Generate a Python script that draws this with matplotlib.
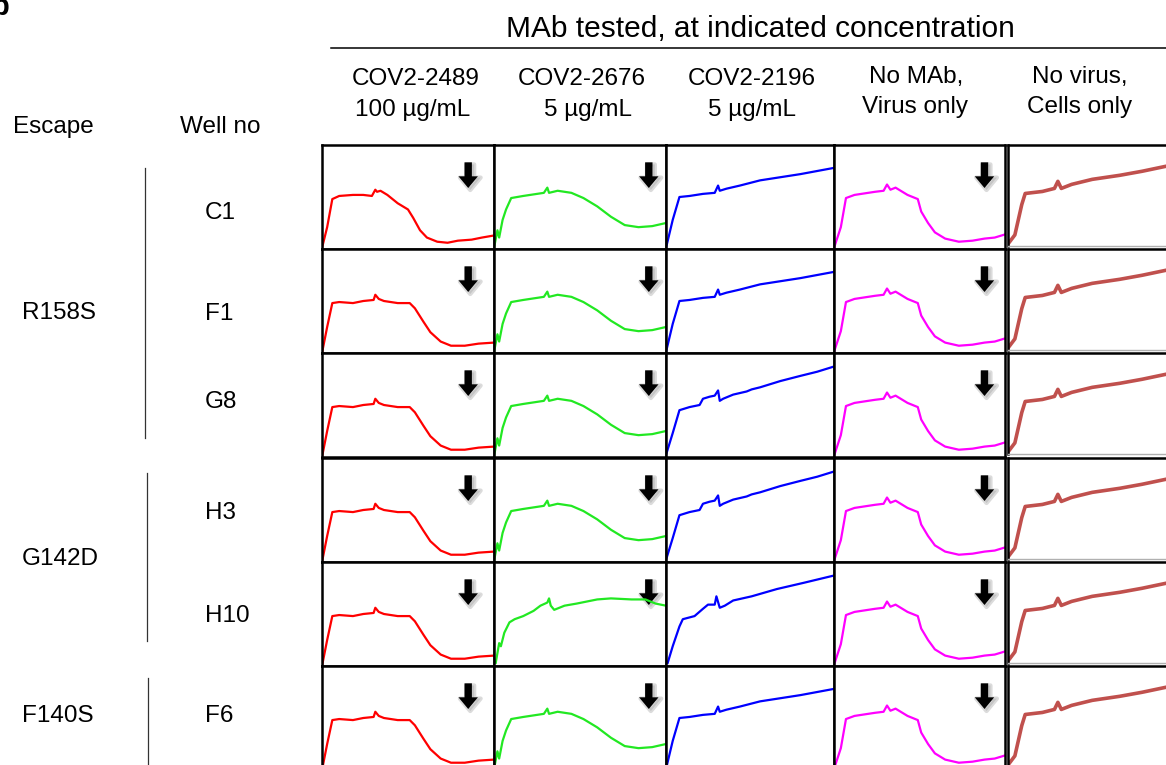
import matplotlib.pyplot as plt
from matplotlib.patches import FancyArrowPatch
from matplotlib.lines import Line2D

plt.rcParams['font.family'] = ['Liberation Sans', 'DejaVu Sans']

W, H = 1166, 765

# labels
escapes = ['R158S', 'G142D', 'F140S']
wells = ['C1', 'F1', 'G8', 'H3', 'H10', 'F6']
mab_names = ['COV2-2489', 'COV2-2676', 'COV2-2196', 'No MAb,', 'No virus,']
mab_conc = ['100 µg/mL', '5 µg/mL', '5 µg/mL', 'Virus only', 'Cells only']
line_colors = ['#ff0000', '#22e822', '#0000ff', '#ff00ff', '#c0504d']
has_arrow = [True, True, False, True, False]

# traces (normalised time, normalised cell index)
red_c1_t = [0, 0.03, 0.06, 0.10, 0.18, 0.24, 0.29, 0.31, 0.32, 0.34, 0.38, 0.44, 0.50, 0.53, 0.57, 0.61, 0.67, 0.73, 0.79, 0.87, 0.93, 1.0]
red_c1_y = [0.01, 0.21, 0.48, 0.51, 0.52, 0.52, 0.51, 0.57, 0.55, 0.56, 0.52, 0.44, 0.38, 0.30, 0.18, 0.11, 0.07, 0.06, 0.08, 0.09, 0.11, 0.13]

red_t = [0, 0.03, 0.06, 0.10, 0.18, 0.24, 0.30, 0.31, 0.33, 0.36, 0.44, 0.51, 0.54, 0.59, 0.63, 0.69, 0.75, 0.83, 0.91, 1.0]
red_y = [0.0, 0.25, 0.48, 0.49, 0.48, 0.50, 0.51, 0.56, 0.52, 0.50, 0.48, 0.48, 0.43, 0.30, 0.20, 0.11, 0.07, 0.07, 0.09, 0.10]

green_t = [0, 0.02, 0.03, 0.05, 0.07, 0.10, 0.17, 0.29, 0.31, 0.32, 0.37, 0.45, 0.52, 0.60, 0.68, 0.76, 0.84, 0.92, 1.0]
green_y = [0.01, 0.18, 0.11, 0.28, 0.38, 0.49, 0.51, 0.54, 0.59, 0.54, 0.56, 0.54, 0.49, 0.41, 0.31, 0.23, 0.21, 0.22, 0.25]

green_h10_t = [0.01, 0.03, 0.04, 0.06, 0.09, 0.12, 0.17, 0.23, 0.27, 0.31, 0.32, 0.33, 0.35, 0.41, 0.48, 0.60, 0.68, 0.80, 0.88, 0.94, 1.0]
green_h10_y = [0.03, 0.22, 0.19, 0.32, 0.42, 0.45, 0.48, 0.53, 0.58, 0.61, 0.65, 0.58, 0.54, 0.58, 0.60, 0.64, 0.65, 0.64, 0.64, 0.60, 0.58]

blue_t = [0, 0.04, 0.08, 0.14, 0.22, 0.29, 0.31, 0.32, 0.36, 0.44, 0.56, 0.68, 0.80, 0.90, 1.0]
blue_y = [0.01, 0.28, 0.50, 0.51, 0.53, 0.54, 0.61, 0.56, 0.58, 0.61, 0.66, 0.69, 0.72, 0.75, 0.78]

blue_g8_t = [0, 0.04, 0.08, 0.14, 0.20, 0.22, 0.26, 0.29, 0.31, 0.32, 0.34, 0.40, 0.48, 0.51, 0.56, 0.68, 0.80, 0.90, 1.0]
blue_g8_y = [0.02, 0.23, 0.45, 0.48, 0.50, 0.56, 0.58, 0.59, 0.64, 0.54, 0.56, 0.60, 0.63, 0.65, 0.67, 0.73, 0.78, 0.82, 0.87]

blue_h10_t = [0.01, 0.04, 0.08, 0.10, 0.17, 0.22, 0.25, 0.29, 0.30, 0.32, 0.35, 0.40, 0.51, 0.66, 0.82, 1.0]
blue_h10_y = [0.03, 0.19, 0.38, 0.45, 0.48, 0.55, 0.59, 0.59, 0.67, 0.56, 0.58, 0.63, 0.67, 0.74, 0.80, 0.87]

magenta_t = [0, 0.04, 0.07, 0.12, 0.24, 0.29, 0.31, 0.33, 0.36, 0.43, 0.49, 0.51, 0.55, 0.59, 0.65, 0.73, 0.81, 0.88, 0.94, 1.0]
magenta_y = [0.01, 0.21, 0.49, 0.52, 0.55, 0.56, 0.62, 0.57, 0.59, 0.52, 0.48, 0.36, 0.25, 0.16, 0.10, 0.07, 0.08, 0.10, 0.11, 0.14]

brown_t = [0, 0.04, 0.08, 0.10, 0.20, 0.27, 0.29, 0.31, 0.37, 0.49, 0.65, 0.78, 0.92, 1.0]
brown_y = [0.02, 0.11, 0.41, 0.52, 0.54, 0.57, 0.64, 0.57, 0.61, 0.66, 0.70, 0.74, 0.79, 0.81]

curves = {
    'red_c1': (red_c1_t, red_c1_y), 'red': (red_t, red_y),
    'green': (green_t, green_y), 'green_h10': (green_h10_t, green_h10_y),
    'blue': (blue_t, blue_y), 'blue_g8': (blue_g8_t, blue_g8_y), 'blue_h10': (blue_h10_t, blue_h10_y),
    'magenta': (magenta_t, magenta_y), 'brown': (brown_t, brown_y),
}
cell_curve = [
    ['red_c1', 'green', 'blue', 'magenta', 'brown'],
    ['red', 'green', 'blue', 'magenta', 'brown'],
    ['red', 'green', 'blue_g8', 'magenta', 'brown'],
    ['red', 'green', 'blue_g8', 'magenta', 'brown'],
    ['red', 'green_h10', 'blue_h10', 'magenta', 'brown'],
    ['red', 'green', 'blue', 'magenta', 'brown'],
]

# layout in pixels
col_left = [322, 494, 666, 834, 1008]
col_w = [172, 172, 168, 171, 172]
row_top = [145, 249, 353, 458, 562, 666]
row_h = 104
arrow_x = [0.85, 0.90, None, 0.88, None]


def fx(x):
    return x / W


def fy(y):
    return 1 - y / H


fig = plt.figure(figsize=(W / 100, H / 100), dpi=100)

for r in range(len(wells)):
    for c in range(len(mab_names)):
        h = row_h if c < 4 else row_h - 3
        ax = fig.add_axes([fx(col_left[c]), fy(row_top[r] + h), col_w[c] / W, h / H])
        t, y = curves[cell_curve[r][c]]
        ax.plot(t, y, color=line_colors[c], lw=2.6 if c == 4 else 1.6, solid_joinstyle='round')
        ax.set_xlim(0, 1)
        ax.set_ylim(0, 1)
        ax.set_xticks([])
        ax.set_yticks([])
        for s in ax.spines.values():
            s.set_linewidth(1.8)
            s.set_color('black')
        if c == 4:
            ax.spines['bottom'].set_color('#b0b0b0')
            ax.spines['bottom'].set_linewidth(1.0)
        if has_arrow[c]:
            x0 = arrow_x[c]
            shadow = FancyArrowPatch((x0 + 0.012, 0.84), (x0 + 0.012, 0.54), transform=ax.transAxes,
                                     arrowstyle='simple,head_length=0.6,head_width=1.0,tail_width=0.38',
                                     mutation_scale=15, color='#9a9a9a', alpha=0.35, lw=3)
            ax.add_patch(shadow)
            arr = FancyArrowPatch((x0, 0.86), (x0, 0.56), transform=ax.transAxes,
                                  arrowstyle='simple,head_length=0.6,head_width=1.0,tail_width=0.38',
                                  mutation_scale=14, color='black', lw=0)
            ax.add_patch(arr)

# header
fig.text(fx(760), fy(37), 'MAb tested, at indicated concentration', fontsize=21.5,
         ha='center', va='baseline')
fig.add_artist(Line2D([fx(331), fx(1166)], [fy(48), fy(48)], color='black', lw=1.1))

name_x = [416, 582, 752, 916, 1080]
conc_x = [413, 588, 752, 915, 1080]
for c in range(len(mab_names)):
    b1 = 85 if c < 3 else 83
    b2 = 116 if c < 3 else 113
    fig.text(fx(name_x[c]), fy(b1), mab_names[c], fontsize=17.5, ha='center', va='baseline')
    fig.text(fx(conc_x[c]), fy(b2), mab_conc[c], fontsize=17.5, ha='center', va='baseline')

fig.text(fx(13), fy(133), 'Escape', fontsize=17.5, va='baseline')
fig.text(fx(180), fy(133), 'Well no', fontsize=17.5, va='baseline')

well_base = [219, 320, 408, 519, 622, 722]
for r, w in enumerate(wells):
    fig.text(fx(205), fy(well_base[r]), w, fontsize=17.5, va='baseline')

escape_base = [319, 565, 722]
for i, e in enumerate(escapes):
    fig.text(fx(22), fy(escape_base[i]), e, fontsize=17.5, va='baseline')

brackets = [(145, 168, 438), (147, 473, 641), (148, 678, 770)]
for x, y0, y1 in brackets:
    fig.add_artist(Line2D([fx(x), fx(x)], [fy(y0), fy(y1)], color='#333333', lw=0.9))

# panel letter, mostly cut off at the left edge
fig.text(fx(-9), fy(15), 'b', fontsize=21, fontweight='bold', va='baseline')

fig.savefig('out.png', dpi=100)
